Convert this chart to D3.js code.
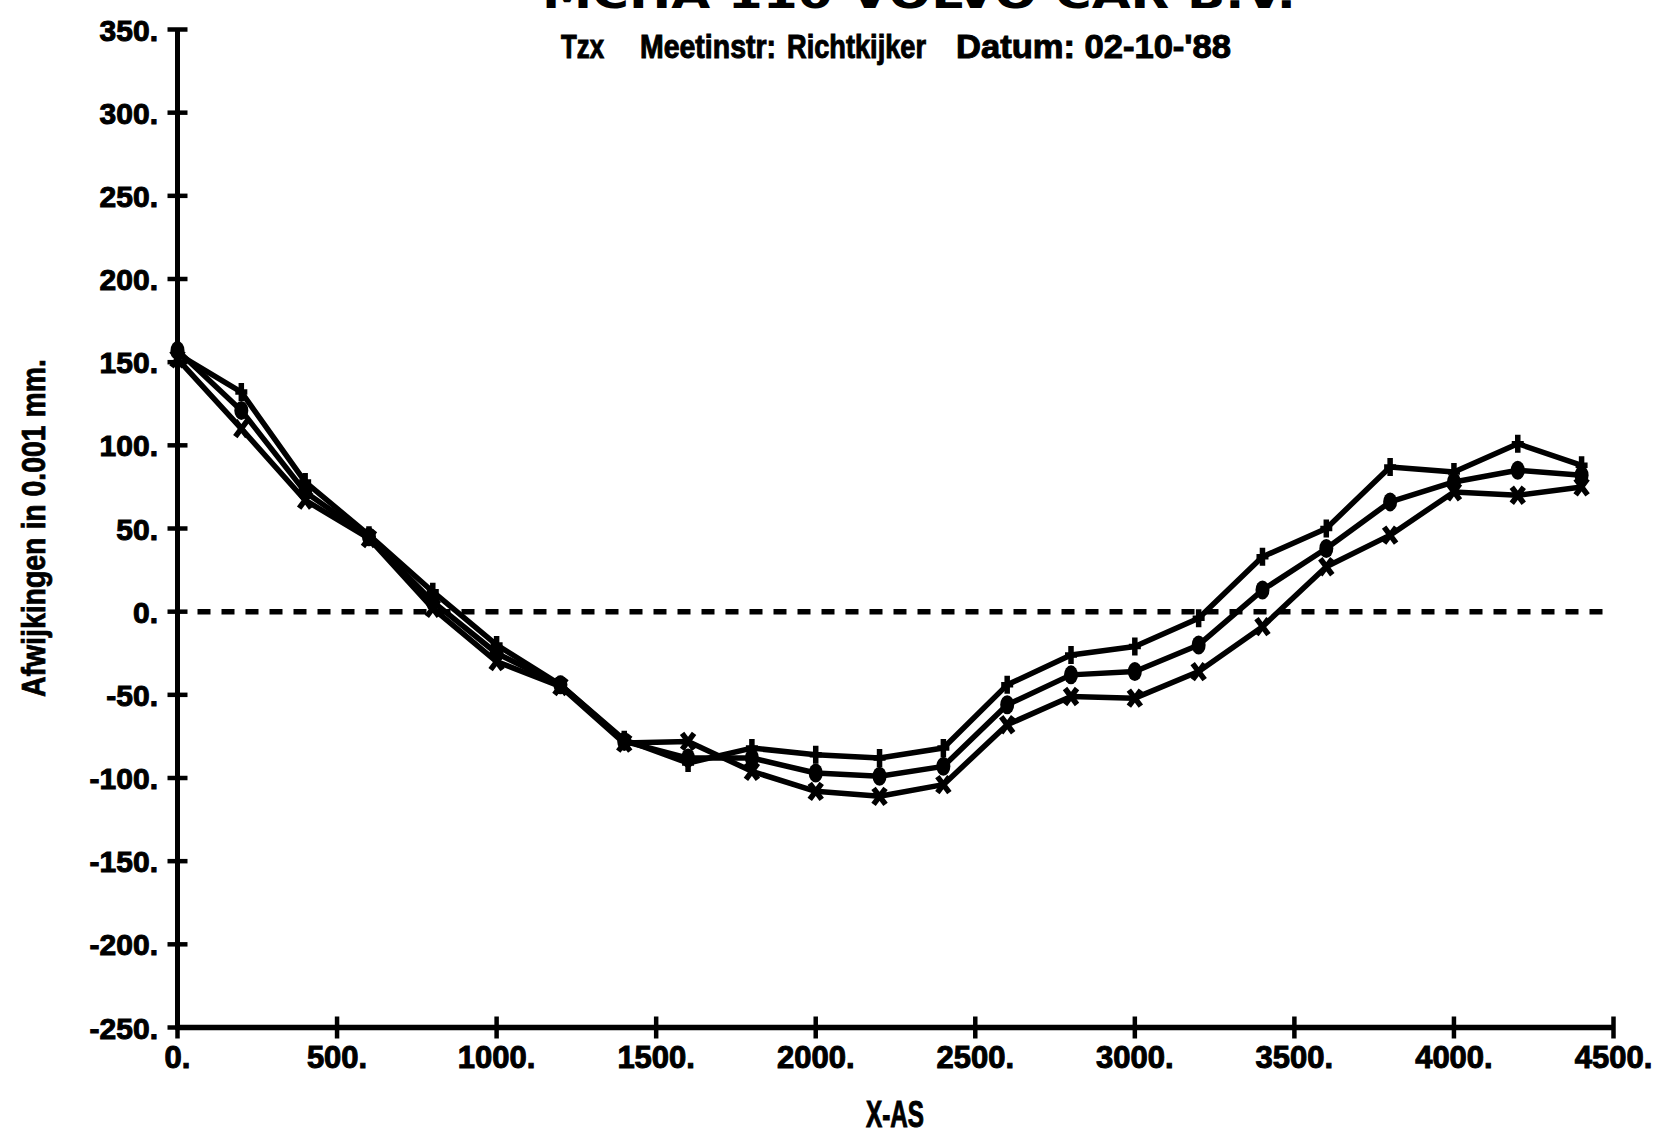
<!DOCTYPE html>
<html>
<head>
<meta charset="utf-8">
<script src="https://cdn.jsdelivr.net/npm/d3@7"></script>
<style>
  html, body { margin: 0; padding: 0; background: #fff; }
  svg { display: block; }
  text { fill: #000; }
</style>
</head>
<body>
<svg id="chart" width="1656" height="1136"></svg>
<script>
// Meetposities langs de X-as
const xPositions = [0, 200, 400, 600, 800, 1000, 1200, 1400, 1600, 1800, 2000, 2200,
                    2400, 2600, 2800, 3000, 3200, 3400, 3600, 3800, 4000, 4200, 4400];

// Afwijkingen (0.001 mm) per meetreeks
const seriesPlus   = [155, 132, 78, 46, 12, -20, -44, -77, -91, -82, -86, -88,
                      -82, -44, -26, -21, -4, 33, 50, 87, 84, 101, 88];
const seriesCircle = [157, 121, 72, 45, 6, -25, -44, -78, -88, -88, -97, -99,
                      -93, -56, -38, -36, -20, 13, 38, 66, 78, 85, 82];
const seriesCross  = [152, 110, 67, 44, 2, -30, -45, -79, -78, -96, -108, -111,
                      -104, -68, -51, -52, -36, -9, 27, 46, 72, 70, 75];

const xTicks = [0, 500, 1000, 1500, 2000, 2500, 3000, 3500, 4000, 4500];
const yTicks = [350, 300, 250, 200, 150, 100, 50, 0, -50, -100, -150, -200, -250];

const titleText = "MCHA 110 VOLVO CAR B.V.";
const subtitleParts = ["Tzx", "Meetinstr:", "Richtkijker", "Datum:\u00a002-10-'88"];
const xAxisTitle = "X-AS";
const yAxisTitle = "Afwijkingen in 0.001 mm.";

const svg = d3.select("#chart");
const BOLD = "'Liberation Sans', Arial, sans-serif";
const NARROW = "'Liberation Sans Narrow', 'Liberation Sans', Arial, sans-serif";

const x = d3.scaleLinear().domain([0, 4500]).range([177.5, 1613.5]);
const y = d3.scaleLinear().domain([-250, 350]).range([1027.5, 29.5]);

// Assen
svg.append("line")
  .attr("x1", x(0)).attr("x2", x(0))
  .attr("y1", y(350)).attr("y2", y(-250) + 2)
  .attr("stroke", "#000").attr("stroke-width", 5);
svg.append("line")
  .attr("x1", x(0) - 2).attr("x2", x(4500))
  .attr("y1", y(-250)).attr("y2", y(-250))
  .attr("stroke", "#000").attr("stroke-width", 5.5);

// Y-as streepjes en labels
const yAxis = svg.append("g");
yAxis.selectAll("line").data(yTicks).join("line")
  .attr("x1", x(0) - 10).attr("x2", x(0) + 10)
  .attr("y1", d => y(d)).attr("y2", d => y(d))
  .attr("stroke", "#000").attr("stroke-width", 4.5);
yAxis.selectAll("text").data(yTicks).join("text")
  .attr("x", 158).attr("y", d => y(d) + 11)
  .attr("text-anchor", "end")
  .attr("stroke", "#000").attr("stroke-width", 1)
  .style("font-family", BOLD).style("font-weight", "bold").style("font-size", "30px")
  .text(d => d + ".");

// X-as streepjes en labels
const xAxis = svg.append("g");
xAxis.selectAll("line").data(xTicks).join("line")
  .attr("x1", d => x(d)).attr("x2", d => x(d))
  .attr("y1", y(-250) - 11).attr("y2", y(-250) + 11)
  .attr("stroke", "#000").attr("stroke-width", 4.5);
xAxis.selectAll("text").data(xTicks).join("text")
  .attr("x", d => x(d)).attr("y", 1068)
  .attr("text-anchor", "middle")
  .attr("stroke", "#000").attr("stroke-width", 1)
  .style("font-family", BOLD).style("font-weight", "bold").style("font-size", "31px")
  .text(d => d + ".");

// Nullijn (gestreept)
svg.append("line")
  .attr("x1", x(0) + 20).attr("x2", x(4500))
  .attr("y1", y(0)).attr("y2", y(0))
  .attr("stroke", "#000").attr("stroke-width", 5.5)
  .attr("stroke-dasharray", "13 11");

// Meetreeksen
const line = d3.line().x((d, i) => x(xPositions[i])).y(d => y(d));
const allSeries = [
  { values: seriesPlus, marker: "plus" },
  { values: seriesCircle, marker: "circle" },
  { values: seriesCross, marker: "cross" }
];

const gSeries = svg.append("g");
allSeries.forEach(s => {
  gSeries.append("path")
    .attr("d", line(s.values))
    .attr("fill", "none").attr("stroke", "#000")
    .attr("stroke-width", 5.5).attr("stroke-linejoin", "round");
});

allSeries.forEach(s => {
  const g = gSeries.append("g");
  s.values.forEach((v, i) => {
    const cx = x(xPositions[i]), cy = y(v);
    if (s.marker === "plus") {
      g.append("path")
        .attr("d", `M${cx},${cy - 9}V${cy + 9}M${cx - 6},${cy}H${cx + 6}`)
        .attr("stroke", "#000").attr("stroke-width", 5.5).attr("fill", "none");
    } else if (s.marker === "circle") {
      g.append("ellipse")
        .attr("cx", cx).attr("cy", cy).attr("rx", 7).attr("ry", 9.5)
        .attr("fill", "#000");
    } else {
      g.append("path")
        .attr("d", `M${cx - 6},${cy - 8}L${cx + 6},${cy + 8}M${cx + 6},${cy - 8}L${cx - 6},${cy + 8}`)
        .attr("stroke", "#000").attr("stroke-width", 5.5).attr("fill", "none");
    }
  });
});

// Titel (bovenste regel valt deels buiten beeld)
svg.append("text")
  .attr("x", 542).attr("y", 8)
  .attr("textLength", 754).attr("lengthAdjust", "spacingAndGlyphs")
  .style("font-family", "'DejaVu Sans', sans-serif").style("font-size", "40px")
  .style("font-weight", "bold")
  .text(titleText);

// Ondertitel
const subPos = [[561, 43], [640, 136], [787, 139], [956, 275]];
svg.append("g").selectAll("text").data(subtitleParts).join("text")
  .attr("x", (d, i) => subPos[i][0]).attr("y", 58)
  .attr("textLength", (d, i) => subPos[i][1]).attr("lengthAdjust", "spacingAndGlyphs")
  .attr("stroke", "#000").attr("stroke-width", 1)
  .style("font-family", NARROW).style("font-weight", "bold").style("font-size", "33px")
  .text(d => d);

// As-titels
svg.append("text")
  .attr("x", 895).attr("y", 1127)
  .attr("text-anchor", "middle")
  .attr("textLength", 58).attr("lengthAdjust", "spacingAndGlyphs")
  .attr("stroke", "#000").attr("stroke-width", 1)
  .style("font-family", NARROW).style("font-weight", "bold").style("font-size", "36px")
  .text(xAxisTitle);

svg.append("text")
  .attr("transform", "translate(45,528) rotate(-90)")
  .attr("text-anchor", "middle")
  .attr("textLength", 338).attr("lengthAdjust", "spacingAndGlyphs")
  .attr("stroke", "#000").attr("stroke-width", 0.8)
  .style("font-family", NARROW).style("font-weight", "bold").style("font-size", "33px")
  .text(yAxisTitle);
</script>
</body>
</html>
